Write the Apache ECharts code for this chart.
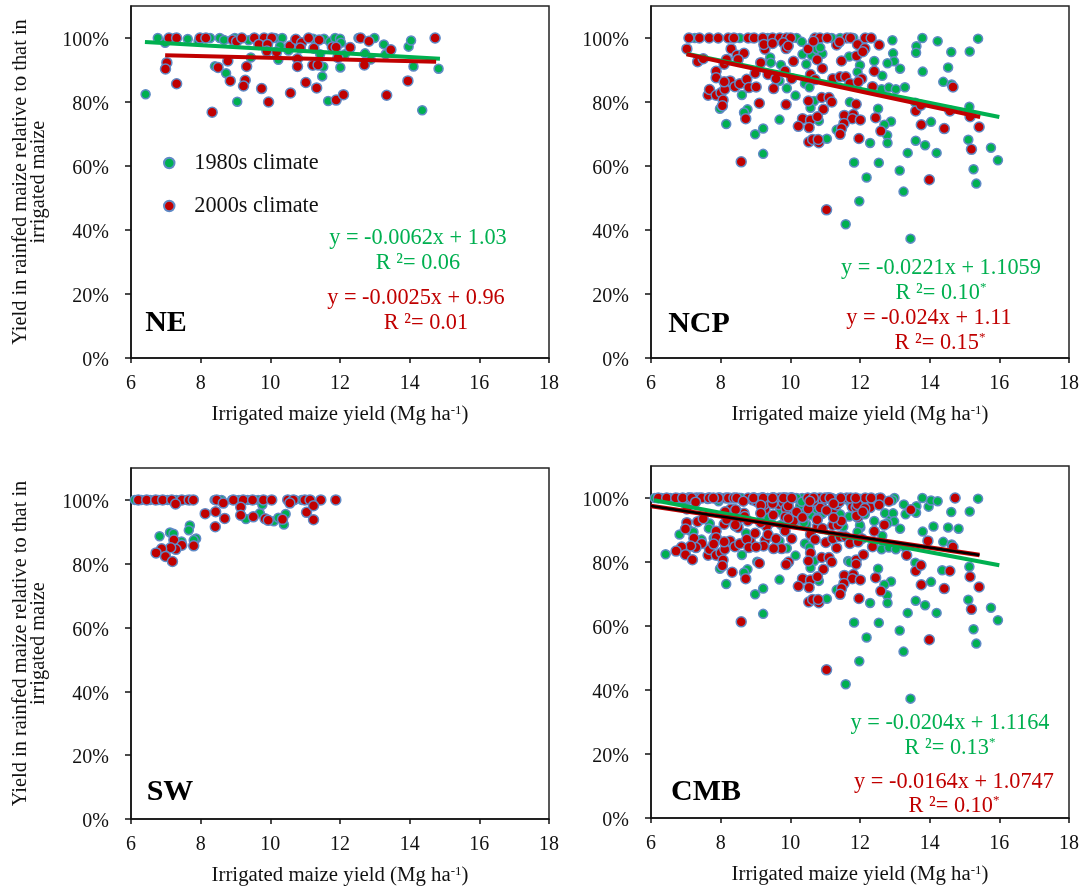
<!DOCTYPE html>
<html>
<head>
<meta charset="utf-8">
<script src="https://cdn.jsdelivr.net/npm/echarts@6/dist/echarts.min.js"></script>
<style>html,body{margin:0;padding:0;background:#fff}#c{width:1086px;height:887px}</style>
</head>
<body>
<div id="c"></div>
<script>
const seriesNames = ['1980s climate', '2000s climate'];
const xTicks = [6, 8, 10, 12, 14, 16, 18];
const yTicks = [0, 20, 40, 60, 80, 100];
const xTitle = '{a|Irrigated maize yield (Mg ha}{s|-1}{a|)}';
const yTitle = 'Yield in rainfed maize relative to that in\nirrigated maize';

const neGreen = [[6.42,82.4],[6.77,100],[6.98,98.5],[7.26,100],[7.63,99.7],[7.94,99],[7.98,100],[8.27,100],[8.55,100],[8.67,99.4],[8.41,91.2],[8.73,89],[9.05,80.1],[8.98,100],[9.38,99.3],[9.44,93.9],[9.54,100],[10.13,100],[10.34,100],[10.28,97.5],[10.23,93.2],[10.52,96.1],[10.73,99.6],[11.23,99.8],[11.54,99.8],[11.43,94.9],[11.52,91],[11.49,88],[11.66,80.3],[11.71,98.8],[11.86,100],[12,99.8],[12.03,98.5],[12.01,90.8],[12.14,94.9],[12.53,100],[12.72,95.2],[12.88,93.3],[12.99,100],[13.26,98],[13.31,94.9],[13.97,97.3],[14.04,99.2],[14.11,91.1],[14.36,77.4],[14.83,90.4],[14.73,100]];
const neRed = [[7.09,100],[7.31,100],[7.03,92.3],[6.99,90.3],[7.31,85.7],[7.98,100],[8.15,100],[8.33,76.8],[8.5,90.8],[8.78,92.8],[8.85,86.6],[8.92,99.4],[9.03,98.9],[9.18,100],[9.28,86.8],[9.23,85],[9.32,91.1],[9.54,100],[9.82,100],[10.04,100],[9.67,98],[9.92,98],[9.9,95.9],[10.18,95.6],[9.75,84.2],[9.95,80],[10.56,97.5],[10.73,99.6],[10.9,98.5],[10.86,96.9],[10.78,93.5],[10.78,91.1],[10.58,82.8],[11.02,86.1],[11.1,100],[11.4,99.4],[11.25,96.8],[11.22,91.5],[11.37,91.6],[11.33,84.4],[11.89,80.6],[12.1,82.3],[11.78,97.2],[11.89,97.1],[11.94,93.9],[12.29,97],[12.59,100],[12.83,99],[12.7,91.6],[13.34,82.1],[13.46,96.3],[13.95,86.6],[14.73,100]];

const ncpGreen = [[12.93,99.3],[13.79,100],[14.23,99],[15.39,99.8],[13.62,97.4],[13.61,95.4],[12.95,95.2],[14.62,95.6],[15.15,95.8],[12.41,92.8],[12.98,92.7],[12.79,92.1],[13.15,90.4],[12.64,88.2],[12,91.5],[11.93,89.4],[13.8,89.5],[14.53,90.8],[14.39,86.3],[14.63,85.5],[12.62,84],[12.83,84.5],[13.03,84],[13.29,84.6],[15.14,78.5],[13.59,79.8],[12.52,77.9],[12.89,73.9],[12.7,72.9],[14.04,73.8],[12.78,69.6],[12.79,67.2],[12.29,67.2],[13.6,67.9],[13.87,66.5],[13.37,64.1],[14.2,64.1],[15.11,68.2],[15.76,65.7],[15.96,61.8],[11.83,61.1],[12.54,61],[13.14,58.6],[15.26,59],[15.34,54.5],[12.19,56.4],[13.25,52],[11.98,49],[11.59,41.8],[13.45,37.3],[7.26,100],[7.93,100],[8.55,100],[8.89,100],[9.35,100],[10.18,100],[11.19,100],[11.43,100],[11.81,100],[10.33,98.8],[10.35,94.9],[10.61,94.6],[10.76,96.5],[10.92,95.1],[10.86,97],[11.69,94.2],[9.42,93.9],[9.44,92.3],[9.73,91.6],[10.46,91.8],[9.9,84.3],[9.69,86.6],[10.42,85.8],[10.55,84.6],[10.15,82],[8.61,82.2],[10.68,80.3],[10.58,78.2],[11.71,80],[8.77,77.7],[8.67,76.7],[7.98,77.9],[8.16,73.1],[9.22,71.7],[8.99,69.9],[9.69,74.5],[9.22,63.8],[10.82,74.1],[11.05,68.5],[11.33,71.3],[11.47,71.9]];
const ncpRed = [[7.09,100],[7.39,100],[7.67,100],[7.93,100],[8.22,100],[8.38,100],[8.79,100],[8.96,100],[9.21,100],[9.49,100],[9.7,100],[9.89,100],[10.01,100],[10.71,100],[10.85,100],[11.06,100],[11.62,100],[11.73,100],[12.15,100],[12.32,100],[7.03,96.6],[7.34,92.6],[7.5,93.5],[7.87,89.6],[7.87,87.6],[7.64,82.1],[7.68,83.9],[7.87,82.1],[8.01,82.9],[8.1,91.8],[8.17,93.3],[8.3,96.6],[8.12,84],[8.27,86.6],[8.1,86.3],[8.07,80.6],[8.05,78.8],[8.41,84.8],[8.55,85.7],[8.75,87.1],[8.81,84.5],[9.02,84.7],[8.47,94.6],[8.67,95.2],[8.5,93.3],[8.72,74.8],[8.59,61.3],[8.99,89],[9.15,92.3],[9.11,79.6],[9.27,96.5],[9.24,98],[9.49,98.3],[9.36,88.6],[9.59,87.3],[9.52,84.2],[9.85,89.7],[10.04,87.3],[9.8,98.5],[9.88,96.7],[9.94,97.5],[10.09,92.7],[9.88,79.2],[10.51,96.6],[10.66,99],[10.77,93.2],[10.92,90.5],[10.58,88.6],[10.71,87],[10.52,80.3],[10.9,81.4],[11.11,81.4],[11.19,80],[10.95,77.7],[10.35,74.8],[10.58,74.4],[10.78,75.4],[10.23,72.4],[10.54,72],[10.53,67.5],[10.64,68.3],[10.82,67.3],[10.8,68.3],[11.04,46.3],[11.22,87.3],[11.43,87.9],[11.59,87.9],[11.71,85.8],[11.33,97.8],[11.41,98.8],[11.47,92.8],[11.93,98],[11.9,94.4],[12.14,96.7],[12.08,95.7],[12.41,89.6],[12.05,87.3],[11.95,86.3],[12.36,84.8],[12.55,97.8],[11.89,79.3],[11.55,75.8],[11.81,76.1],[11.78,74.8],[12.01,74.4],[11.54,73.3],[11.47,71.7],[11.43,69.9],[11.97,68.6],[12.45,75.1],[12.6,70.9],[13.6,77.2],[13.75,79],[13.76,72.9],[14.42,71.7],[13.99,55.7],[14.58,77.2],[14.67,84.7],[15.16,75.4],[15.42,72.2],[15.2,65.2]];

const swGreen = [[6.11,100],[6.3,100],[6.55,100],[6.8,100],[7.05,100],[7.3,100],[7.6,100],[8.4,100],[8.6,100],[8.9,100],[9.1,100],[9.35,100],[9.65,100],[10.5,100],[10.7,100],[10.9,100],[11.1,100],[6.82,88.6],[7.12,89.8],[7.22,89.4],[7.69,92],[7.66,90.5],[7.87,87.9],[7.8,87.4],[7.45,87],[9.7,95.8],[9.77,98.5],[10.44,95.6],[10.39,92.3],[9.3,94],[10.1,93.3],[10.23,94.4]];
const swRed = [[6.21,100],[6.45,100],[6.71,100],[6.91,100],[7.17,100],[7.46,100],[7.67,100],[7.79,100],[8.46,100],[8.94,100],[9.22,100],[9.49,100],[9.8,100],[10.04,100],[10.5,100],[10.66,100],[10.99,100],[11.14,100],[11.45,100],[11.88,100],[7.28,98.7],[8.13,95.7],[8.43,96.3],[8.65,99],[9.15,97.7],[9.15,95.2],[8.69,94.2],[8.42,91.6],[9.51,94.7],[9.85,94.1],[9.94,93.6],[10.35,93.9],[11.04,96.1],[11.24,98.2],[11.24,93.8],[10.56,99],[7.23,87.4],[7.46,85.8],[7.8,85.6],[7.29,84.5],[7.14,85],[6.88,84.7],[6.72,83.4],[6.99,82.3],[7.19,80.7]];

const cmbGreen = [...neGreen, ...ncpGreen, ...swGreen];
const cmbRed = [...neRed, ...ncpRed, ...swRed];

const neLineGreen = [[6.4,98.75],[14.87,93.5]];
const neLineRed = [[6.98,94.6],[14.76,92.6]];
const ncpLineGreen = [[7.02,95.1],[16,75.3]];
const ncpLineRed = [[7.02,94.9],[15.45,75.3]];
const cmbLineGreen = [[6.09,99.3],[16,79]];
const cmbLineRed = [[6,97.5],[15.43,82.2]];

const GREEN = '#00B050', RED = '#C00000', BLUE = '#5F8AC6', SERIF = '"Liberation Serif","Times New Roman",serif';

const panels = [
  {label:'NE', left:131, top:6, g:neGreen, r:neRed, lg:neLineGreen, lr:neLineRed, yName:true},
  {label:'NCP', left:651, top:6, g:ncpGreen, r:ncpRed, lg:ncpLineGreen, lr:ncpLineRed},
  {label:'SW', left:131, top:468, g:swGreen, r:swRed, yName:true},
  {label:'CMB', left:651, top:466, g:cmbGreen, r:cmbRed, lg:cmbLineGreen, lr:cmbLineRed, dark:true}
];

const notes = [
  ['y = -0.0062x + 1.03', GREEN, 418, 238], ['R ²= 0.06', GREEN, 418, 263],
  ['y = -0.0025x + 0.96', RED, 416, 298], ['R ²= 0.01', RED, 426, 323],
  ['y = -0.0221x + 1.1059', GREEN, 941, 268], ['R ²= 0.10{s|*}', GREEN, 941, 293],
  ['y = -0.024x + 1.11', RED, 929, 318], ['R ²= 0.15{s|*}', RED, 940, 343],
  ['y = -0.0204x + 1.1164', GREEN, 950, 723], ['R ²= 0.13{s|*}', GREEN, 950, 748],
  ['y = -0.0164x + 1.0747', RED, 954, 782], ['R ²= 0.10{s|*}', RED, 954, 806]
];
const panelTags = [['NE',166,323],['NCP',699,324],['SW',170,792],['CMB',706,792]];

const grids=[], xAxes=[], yAxes=[], series=[];
panels.forEach((p,i)=>{
  grids.push({left:p.left, top:p.top, width:418, height:352, show:true, borderColor:'#222', borderWidth:1.5, backgroundColor:'#fff'});
  const line = {show:true, onZero:false, lineStyle:{color:'#111', width:1.5}};
  const tick = {show:true, length:6, lineStyle:{color:'#111', width:1.5}};
  xAxes.push({type:'value', gridIndex:i, min:6, max:18, interval:2, splitLine:{show:false},
    axisLine:line, axisTick:{...tick, length:5}, axisLabel:{color:'#111', fontFamily:SERIF, fontSize:20, margin:16},
    name:xTitle, nameLocation:'middle', nameGap:46,
    nameTextStyle:{rich:{a:{fontFamily:SERIF, fontSize:20.8, color:'#111'}, s:{fontFamily:SERIF, fontSize:13, color:'#111', verticalAlign:'top', lineHeight:17}}}});
  yAxes.push({type:'value', gridIndex:i, min:0, max:110, splitLine:{show:false},
    axisLine:line, axisTick:{...tick, customValues:yTicks},
    axisLabel:{color:'#111', fontFamily:SERIF, fontSize:20, margin:22, formatter:'{value}%', customValues:yTicks, verticalAlign:'top', lineHeight:6},
    name:p.yName?yTitle:'', nameLocation:'middle', nameRotate:90, nameGap:83,
    nameTextStyle:{fontFamily:SERIF, fontSize:20.4, color:'#111', lineHeight:18}});
  const dot=(name,data,fill,size,z)=>({name, type:'scatter', xAxisIndex:i, yAxisIndex:i, data, symbol:'circle', symbolSize:size, z,
    itemStyle:{color:fill, borderColor:BLUE, borderWidth:1.5, opacity:1}, silent:true, animation:false});
  series.push(dot(seriesNames[0], p.g, GREEN, 9, 2));
  series.push(dot(seriesNames[1], p.r, RED, 10, 3));
  const ln=(data,color,width,z)=>({type:'line', xAxisIndex:i, yAxisIndex:i, data, showSymbol:false, z, silent:true, animation:false,
    lineStyle:{color, width, cap:'butt'}, itemStyle:{color}});
  if(p.lg) series.push(ln(p.lg, GREEN, 4, 4));
  if(p.lr){ series.push(ln(p.lr, RED, p.dark?4.5:4, 5)); if(p.dark) series.push(ln(p.lr, '#000', 2.5, 6)); }
});

const graphic = [];
notes.forEach(([t,c,x,y])=>{
  graphic.push({type:'text', x, y, z:20, style:{text:t.includes('{s|')?'{a|'+t.replace('{s|*}','')+'}{s|*}':t, fill:c, font:'22.3px '+SERIF, align:'center', verticalAlign:'middle',
    rich:{a:{fontFamily:SERIF, fontSize:22.3, fill:c, color:c}, s:{fontFamily:SERIF, fontSize:13, fill:c, color:c, verticalAlign:'top', lineHeight:24}}}});
});
panelTags.forEach(([t,x,y])=>{
  graphic.push({type:'text', x, y, z:20, style:{text:t, fill:'#000', font:'bold 30px '+SERIF, align:'center', verticalAlign:'middle'}});
});

const chart = echarts.init(document.getElementById('c'), null, {renderer:'canvas'});
chart.setOption({
  animation:false, backgroundColor:'#fff',
  grid:grids, xAxis:xAxes, yAxis:yAxes, series, graphic,
  legend:{show:true, orient:'vertical', left:158, top:147, itemWidth:24, itemHeight:10.5, itemGap:21,
    data:seriesNames, selectedMode:false, textStyle:{fontFamily:SERIF, fontSize:22.3, color:'#111', padding:[0,0,0,8]}}
});
</script>
</body>
</html>
